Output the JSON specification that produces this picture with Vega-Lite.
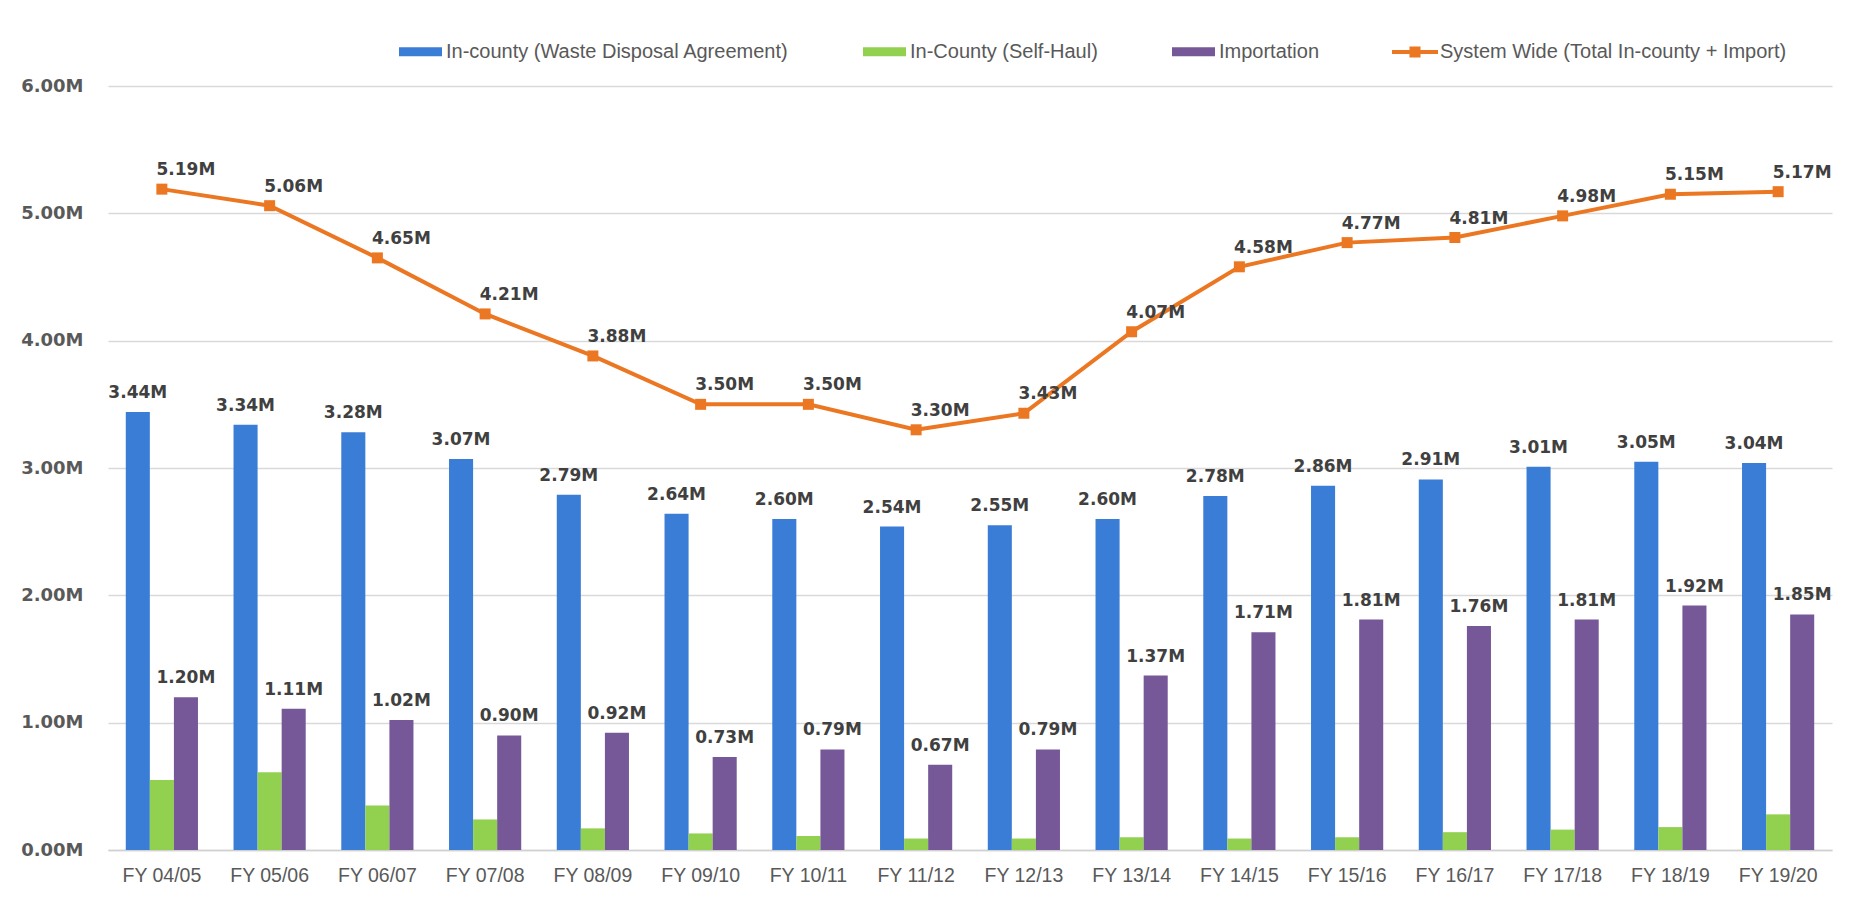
{
  "$schema": "https://vega.github.io/schema/vega-lite/v6.json",
  "width": 1724,
  "height": 764,
  "autosize": {"type": "none"},
  "padding": {"left": 108, "top": 86, "right": 28, "bottom": 52},
  "background": "white",
  "datasets": {
    "bars": [
      {"fy": "FY 04/05", "series": "In-county (Waste Disposal Agreement)", "value": 3.44},
      {"fy": "FY 05/06", "series": "In-county (Waste Disposal Agreement)", "value": 3.34},
      {"fy": "FY 06/07", "series": "In-county (Waste Disposal Agreement)", "value": 3.28},
      {"fy": "FY 07/08", "series": "In-county (Waste Disposal Agreement)", "value": 3.07},
      {"fy": "FY 08/09", "series": "In-county (Waste Disposal Agreement)", "value": 2.79},
      {"fy": "FY 09/10", "series": "In-county (Waste Disposal Agreement)", "value": 2.64},
      {"fy": "FY 10/11", "series": "In-county (Waste Disposal Agreement)", "value": 2.60},
      {"fy": "FY 11/12", "series": "In-county (Waste Disposal Agreement)", "value": 2.54},
      {"fy": "FY 12/13", "series": "In-county (Waste Disposal Agreement)", "value": 2.55},
      {"fy": "FY 13/14", "series": "In-county (Waste Disposal Agreement)", "value": 2.60},
      {"fy": "FY 14/15", "series": "In-county (Waste Disposal Agreement)", "value": 2.78},
      {"fy": "FY 15/16", "series": "In-county (Waste Disposal Agreement)", "value": 2.86},
      {"fy": "FY 16/17", "series": "In-county (Waste Disposal Agreement)", "value": 2.91},
      {"fy": "FY 17/18", "series": "In-county (Waste Disposal Agreement)", "value": 3.01},
      {"fy": "FY 18/19", "series": "In-county (Waste Disposal Agreement)", "value": 3.05},
      {"fy": "FY 19/20", "series": "In-county (Waste Disposal Agreement)", "value": 3.04},
      {"fy": "FY 04/05", "series": "In-County (Self-Haul)", "value": 0.55},
      {"fy": "FY 05/06", "series": "In-County (Self-Haul)", "value": 0.61},
      {"fy": "FY 06/07", "series": "In-County (Self-Haul)", "value": 0.35},
      {"fy": "FY 07/08", "series": "In-County (Self-Haul)", "value": 0.24},
      {"fy": "FY 08/09", "series": "In-County (Self-Haul)", "value": 0.17},
      {"fy": "FY 09/10", "series": "In-County (Self-Haul)", "value": 0.13},
      {"fy": "FY 10/11", "series": "In-County (Self-Haul)", "value": 0.11},
      {"fy": "FY 11/12", "series": "In-County (Self-Haul)", "value": 0.09},
      {"fy": "FY 12/13", "series": "In-County (Self-Haul)", "value": 0.09},
      {"fy": "FY 13/14", "series": "In-County (Self-Haul)", "value": 0.10},
      {"fy": "FY 14/15", "series": "In-County (Self-Haul)", "value": 0.09},
      {"fy": "FY 15/16", "series": "In-County (Self-Haul)", "value": 0.10},
      {"fy": "FY 16/17", "series": "In-County (Self-Haul)", "value": 0.14},
      {"fy": "FY 17/18", "series": "In-County (Self-Haul)", "value": 0.16},
      {"fy": "FY 18/19", "series": "In-County (Self-Haul)", "value": 0.18},
      {"fy": "FY 19/20", "series": "In-County (Self-Haul)", "value": 0.28},
      {"fy": "FY 04/05", "series": "Importation", "value": 1.20},
      {"fy": "FY 05/06", "series": "Importation", "value": 1.11},
      {"fy": "FY 06/07", "series": "Importation", "value": 1.02},
      {"fy": "FY 07/08", "series": "Importation", "value": 0.90},
      {"fy": "FY 08/09", "series": "Importation", "value": 0.92},
      {"fy": "FY 09/10", "series": "Importation", "value": 0.73},
      {"fy": "FY 10/11", "series": "Importation", "value": 0.79},
      {"fy": "FY 11/12", "series": "Importation", "value": 0.67},
      {"fy": "FY 12/13", "series": "Importation", "value": 0.79},
      {"fy": "FY 13/14", "series": "Importation", "value": 1.37},
      {"fy": "FY 14/15", "series": "Importation", "value": 1.71},
      {"fy": "FY 15/16", "series": "Importation", "value": 1.81},
      {"fy": "FY 16/17", "series": "Importation", "value": 1.76},
      {"fy": "FY 17/18", "series": "Importation", "value": 1.81},
      {"fy": "FY 18/19", "series": "Importation", "value": 1.92},
      {"fy": "FY 19/20", "series": "Importation", "value": 1.85}
    ],
    "total": [
      {"fy": "FY 04/05", "series": "System Wide (Total In-county + Import)", "value": 5.19},
      {"fy": "FY 05/06", "series": "System Wide (Total In-county + Import)", "value": 5.06},
      {"fy": "FY 06/07", "series": "System Wide (Total In-county + Import)", "value": 4.65},
      {"fy": "FY 07/08", "series": "System Wide (Total In-county + Import)", "value": 4.21},
      {"fy": "FY 08/09", "series": "System Wide (Total In-county + Import)", "value": 3.88},
      {"fy": "FY 09/10", "series": "System Wide (Total In-county + Import)", "value": 3.50},
      {"fy": "FY 10/11", "series": "System Wide (Total In-county + Import)", "value": 3.50},
      {"fy": "FY 11/12", "series": "System Wide (Total In-county + Import)", "value": 3.30},
      {"fy": "FY 12/13", "series": "System Wide (Total In-county + Import)", "value": 3.43},
      {"fy": "FY 13/14", "series": "System Wide (Total In-county + Import)", "value": 4.07},
      {"fy": "FY 14/15", "series": "System Wide (Total In-county + Import)", "value": 4.58},
      {"fy": "FY 15/16", "series": "System Wide (Total In-county + Import)", "value": 4.77},
      {"fy": "FY 16/17", "series": "System Wide (Total In-county + Import)", "value": 4.81},
      {"fy": "FY 17/18", "series": "System Wide (Total In-county + Import)", "value": 4.98},
      {"fy": "FY 18/19", "series": "System Wide (Total In-county + Import)", "value": 5.15},
      {"fy": "FY 19/20", "series": "System Wide (Total In-county + Import)", "value": 5.17}
    ]
  },
  "config": {
    "view": {"stroke": null},
    "axis": {"titleFont": "Liberation Sans"}
  },
  "encoding": {
    "x": {
      "field": "fy",
      "type": "nominal",
      "sort": null,
      "scale": {"paddingInner": 0.33, "paddingOuter": 0.165},
      "axis": {
        "title": null,
        "labelAngle": 0,
        "labelFont": "Liberation Sans",
        "labelFontSize": 19.5,
        "labelColor": "#595959",
        "labelPadding": 16,
        "ticks": false,
        "domainColor": "#D0D0D0",
        "domainWidth": 1.5,
        "grid": false
      }
    },
    "y": {
      "field": "value",
      "type": "quantitative",
      "scale": {"domain": [0, 6], "nice": false},
      "axis": {
        "title": null,
        "values": [0, 1, 2, 3, 4, 5, 6],
        "labelExpr": "format(datum.value, '.2f') + 'M'",
        "labelFont": "DejaVu Sans",
        "labelFontWeight": "bold",
        "labelFontSize": 18,
        "labelColor": "#595959",
        "labelPadding": 25,
        "ticks": false,
        "domain": false,
        "grid": true,
        "gridColor": "#D9D9D9",
        "gridWidth": 1.3
      }
    }
  },
  "layer": [
    {
      "data": {"name": "bars"},
      "mark": {"type": "bar"},
      "encoding": {
        "xOffset": {
          "field": "series",
          "type": "nominal",
          "sort": ["In-county (Waste Disposal Agreement)", "In-County (Self-Haul)", "Importation"],
          "scale": {"paddingInner": 0, "paddingOuter": 0}
        },
        "fill": {
          "field": "series",
          "type": "nominal",
          "scale": {
            "domain": ["In-county (Waste Disposal Agreement)", "In-County (Self-Haul)", "Importation"],
            "range": ["#3A7DD6", "#92D050", "#765898"]
          },
          "legend": {
            "title": null,
            "orient": "none",
            "direction": "horizontal",
            "legendX": 291,
            "legendY": -56,
            "padding": 0,
            "symbolType": "M-1,-0.21H1V0.21H-1Z",
            "symbolSize": 1849,
            "symbolStrokeWidth": 0,
            "labelOffset": 4,
            "columnPadding": 74,
            "labelFont": "Liberation Sans",
            "labelFontSize": 20,
            "labelColor": "#595959",
            "labelLimit": 500
          }
        }
      }
    },
    {
      "data": {"name": "bars"},
      "transform": [{"filter": "datum.series !== 'In-County (Self-Haul)'"}],
      "mark": {
        "type": "text",
        "baseline": "alphabetic",
        "dy": -14,
        "font": "DejaVu Sans",
        "fontWeight": "bold",
        "fontSize": 17,
        "color": "#404040",
        "text": {"expr": "format(datum.value, '.2f') + 'M'"}
      },
      "encoding": {
        "xOffset": {
          "field": "series",
          "type": "nominal",
          "sort": ["In-county (Waste Disposal Agreement)", "In-County (Self-Haul)", "Importation"],
          "scale": {"domain": ["In-county (Waste Disposal Agreement)", "In-County (Self-Haul)", "Importation"], "paddingInner": 0, "paddingOuter": 0}
        }
      }
    },
    {
      "data": {"name": "total"},
      "mark": {"type": "line", "strokeWidth": 4},
      "encoding": {
        "stroke": {
          "field": "series",
          "type": "nominal",
          "scale": {"range": ["#EB7722"]},
          "legend": {
            "title": null,
            "orient": "none",
            "legendX": 1284,
            "legendY": -57,
            "padding": 0,
            "symbolType": "M-1,-0.087H1V0.087H-1Z M-0.24,-0.24H0.24V0.24H-0.24Z",
            "symbolSize": 2116,
            "symbolFillColor": "#EB7722",
            "symbolStrokeWidth": 0,
            "labelOffset": 2,
            "labelFont": "Liberation Sans",
            "labelFontSize": 20,
            "labelColor": "#595959",
            "labelLimit": 500,
            "encode": {
              "symbols": {"update": {"fill": {"value": "#EB7722"}, "strokeWidth": {"value": 0}, "opacity": {"value": 1}}}
            }
          }
        }
      }
    },
    {
      "data": {"name": "total"},
      "mark": {"type": "point", "shape": "square", "filled": true, "size": 121, "color": "#EB7722", "opacity": 1}
    },
    {
      "data": {"name": "total"},
      "mark": {
        "type": "text",
        "align": "center",
        "baseline": "middle",
        "dx": 24,
        "dy": -19,
        "font": "DejaVu Sans",
        "fontWeight": "bold",
        "fontSize": 17,
        "color": "#404040",
        "text": {"expr": "format(datum.value, '.2f') + 'M'"}
      }
    }
  ]
}
